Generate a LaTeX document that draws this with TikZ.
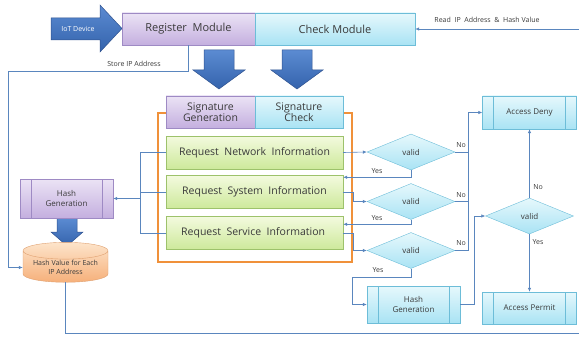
\documentclass[tikz,border=0pt]{standalone}
\usepackage{fontspec}
\setmainfont{Open Sans}
\usepackage{tikz}
\usetikzlibrary{shapes.geometric,arrows.meta}

\definecolor{purpletop}{HTML}{EBE3F5}
\definecolor{purplebot}{HTML}{C4AFDF}
\definecolor{purpledraw}{HTML}{9E8AC4}
\definecolor{cyantop}{HTML}{E6F8FC}
\definecolor{cyanbot}{HTML}{A9E3F4}
\definecolor{cyandraw}{HTML}{6DBDD8}
\definecolor{greentop}{HTML}{F3FADE}
\definecolor{greenbot}{HTML}{CDE99B}
\definecolor{greendraw}{HTML}{9DC26B}
\definecolor{orangetop}{HTML}{FDE4CA}
\definecolor{orangebot}{HTML}{F6B07A}
\definecolor{orangedraw}{HTML}{DFA070}
\definecolor{framecol}{HTML}{F0913A}
\definecolor{lnblue}{HTML}{5A86BE}
\definecolor{arrowtop}{HTML}{5B8BD2}
\definecolor{arrowbot}{HTML}{3463AC}
\definecolor{arrowdraw}{HTML}{2F528F}
\definecolor{txt}{HTML}{3A3A3A}

\begin{document}
\begin{tikzpicture}[x=1pt,y=-1pt,
    box/.style={rectangle,align=center,inner sep=1pt,text=txt,font=\fontsize{10.5}{11.5}\selectfont},
    purplebox/.style={box,draw=purpledraw,top color=purpletop,bottom color=purplebot},
    cyanbox/.style={box,draw=cyandraw,top color=cyantop,bottom color=cyanbot},
    greenbox/.style={box,draw=greendraw,top color=greentop,bottom color=greenbot,
        minimum width=177pt,minimum height=33pt},
    sideline/.style={path picture={
        \draw[#1] ([xshift=11pt]path picture bounding box.north west)
            -- ([xshift=11pt]path picture bounding box.south west);
        \draw[#1] ([xshift=-11pt]path picture bounding box.north east)
            -- ([xshift=-11pt]path picture bounding box.south east);}},
    decision/.style={diamond,aspect=2.4,inner sep=0pt,draw=cyandraw,
        top color=cyantop,bottom color=cyanbot,text=txt,
        minimum width=88pt,minimum height=36pt,font=\fontsize{8}{9}\selectfont},
    lbl/.style={inner sep=1pt,text=txt,font=\fontsize{7}{8}\selectfont},
    conn/.style={draw=lnblue,line width=0.6pt},
    arr/.style={conn,-{Latex[length=4pt,width=3.5pt]}},
    bigarrow/.style={draw=arrowdraw,line width=0.5pt,top color=arrowtop,bottom color=arrowbot}
    ]
    \useasboundingbox (0,0) rectangle (579,337);

    % IoT device arrow
    \draw[bigarrow] (51,18) -- (100,18) -- (100,5) -- (122,28.5) -- (100,52) -- (100,40) -- (51,40) -- cycle;
    \node[lbl,text=white] (iot) at (78,29) {IoT Device};

    % modules
    \node[purplebox,minimum width=133pt,minimum height=32pt,font=\fontsize{11}{12}\selectfont]
        (reg) at (188.5,29) {Register\ \ Module};
    \node[cyanbox,minimum width=160pt,minimum height=32pt,font=\fontsize{11}{12}\selectfont]
        (chk) at (335,29) {Check Module};

    % down arrows
    \foreach \cx/\ty/\hy/\tipy/\sw/\hw in {219/50/70/89/15/26, 297/50/70/89/15/26, 67/218/232/246/10/16}
    {
        \draw[bigarrow] (\cx-\sw,\ty) -- (\cx+\sw,\ty) -- (\cx+\sw,\hy) -- (\cx+\hw,\hy)
            -- (\cx,\tipy) -- (\cx-\hw,\hy) -- (\cx-\sw,\hy) -- cycle;
    }

    % signature frame
    \draw[framecol,line width=1.2pt] (158,113) rectangle (352,262);
    \node[purplebox,minimum width=89pt,minimum height=32pt] (siggen) at (210.5,112) {Signature\\Generation};
    \node[cyanbox,minimum width=88pt,minimum height=32pt] (sigchk) at (299,112) {Signature\\Check};

    % request boxes
    \foreach \n/\y/\l in {
        net/152.5/{Request\ \ Network\ \ Information},
        sys/192/{Request\ \ System\ \ Information},
        svc/233/{Request\ \ Service\ \ Information}
        }
    {
        \node[greenbox] (\n) at (254.5,\y) {\l};
    }

    % left side
    \node[purplebox,sideline=purpledraw,font=\fontsize{8}{10}\selectfont,
        minimum width=93pt,minimum height=39pt] (hashL) at (66.5,198.5) {Hash\\Generation};
    \node[cylinder,shape border rotate=90,aspect=0.25,draw=orangedraw,
        top color=orangetop,bottom color=orangebot,text=txt,align=center,inner sep=1pt,
        minimum width=85pt,minimum height=36pt,font=\fontsize{7}{9}\selectfont]
        (cyl) at (65.5,267.5) {Hash Value for Each\\IP Address};

    % decisions
    \foreach \n/\x/\y in {v1/411/152, v2/411/201.5, v3/411/250.5, v4/529.5/216}
    {
        \node[decision] (\n) at (\x,\y) {valid};
    }

    % results
    \node[cyanbox,sideline=cyandraw,font=\fontsize{8}{9}\selectfont,
        minimum width=94pt,minimum height=33pt] (deny) at (529.5,112.5) {Access Deny};
    \node[cyanbox,sideline=cyandraw,font=\fontsize{8}{9}\selectfont,
        minimum width=94pt,minimum height=32pt] (permit) at (529.5,308) {Access Permit};
    \node[cyanbox,sideline=cyandraw,font=\fontsize{8}{10}\selectfont,
        minimum width=93pt,minimum height=37pt] (hashR) at (413.5,304.5) {Hash\\Generation};

    % helper points
    \coordinate (storeturn) at (8,71);
    \coordinate (readin) at (579,29);
    \coordinate (loopend) at (579,333);
    \coordinate (lbus) at ([xshift=-26pt]net.west);
    \coordinate (nobus) at ([xshift=-14pt]deny.west);
    \coordinate (yesbend) at (352,277);

    % connectors
    \draw[arr] (readin) -- (chk.east);
    \draw[arr] (reg.south) |- (storeturn) |- (cyl.west);
    \draw[conn] (cyl.south) |- (loopend);

    \draw[conn] (net.west) -- (lbus) |- (svc.west);
    \draw[conn] (sys.west) -- (sys.west -| lbus);
    \draw[arr] (lbus |- hashL.east) -- (hashL.east);

    \draw[arr] (net.east) -- (v1.west);
    \draw[arr] (v1.south) |- ([yshift=-2pt]sys.north east);
    \draw[arr] (sys.east) -- ++(10,0) |- (v2.west);
    \draw[arr] (v2.south) |- ([yshift=-8pt]svc.north east);
    \draw[arr] (svc.east) -- ++(10,0) |- (v3.west);
    \draw[arr] (v3.south) |- (yesbend) |- (hashR.west);

    \draw[arr] (v3.east) -| (nobus) -- (deny.west);
    \draw[conn] (v1.east) -- (v1.east -| nobus);
    \draw[conn] (v2.east) -- (v2.east -| nobus);

    \draw[arr] (hashR.east) -- ++(14,0) |- (v4.west);
    \draw[arr] (v4.north) -- (deny.south);
    \draw[arr] (v4.south) -- (permit.north);

    % labels
    \node[lbl] (storelbl) at (134,64) {Store IP Address};
    \node[lbl] (readlbl) at (487,20) {Read\ \ IP\ \ Address\ \ \&\ \ Hash Value};
    \foreach \n/\x/\y/\l in {n1/461/145/No, n2/461/195/No, n3/461/243/No, n4/538/187/No,
        y1/377/171/Yes, y2/377/218/Yes, y3/378/270/Yes, y4/538/242/Yes}
    {
        \node[lbl] (\n) at (\x,\y) {\l};
    }
\end{tikzpicture}
\end{document}
